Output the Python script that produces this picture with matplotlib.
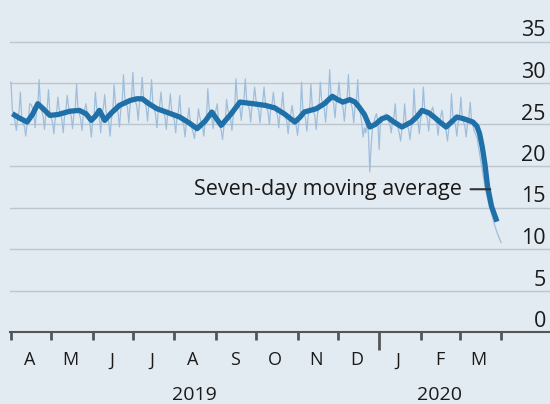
import numpy as np
import matplotlib
matplotlib.use('Agg')
import matplotlib.pyplot as plt
import matplotlib.dates as mdates

plt.rcParams['font.family'] = ['Open Sans', 'DejaVu Sans']

# daily values from 1 April 2019, one row per week (Monday first)
daily_weeks = [
    [30.1, 26.8, 26.0, 25.4, 24.3, 25.9, 26.5],
    [28.9, 25.9, 25.1, 24.8, 23.6, 25.0, 25.6],
    [27.5, 27.4, 27.0, 26.3, 24.6, 26.5, 27.2],
    [30.4, 27.2, 26.6, 26.0, 24.4, 26.3, 26.9],
    [29.2, 26.5, 25.8, 25.3, 23.9, 25.7, 26.3],
    [28.3, 26.9, 26.2, 25.6, 24.0, 26.0, 26.7],
    [28.5, 27.1, 26.5, 26.0, 24.5, 26.3, 27.0],
    [29.9, 26.9, 26.3, 25.7, 24.3, 26.1, 26.8],
    [27.5, 26.3, 25.6, 25.1, 23.5, 25.5, 26.0],
    [28.9, 27.0, 26.4, 25.9, 24.0, 26.3, 27.0],
    [28.6, 26.5, 25.8, 25.3, 23.6, 25.7, 26.4],
    [29.8, 27.6, 27.0, 26.4, 24.7, 26.8, 27.5],
    [31.0, 28.2, 27.6, 27.0, 25.2, 27.4, 28.1],
    [31.3, 28.4, 27.8, 27.2, 25.5, 27.6, 28.3],
    [30.7, 28.3, 27.6, 27.1, 25.4, 27.5, 28.1],
    [30.4, 27.4, 26.8, 26.2, 24.6, 26.6, 27.2],
    [28.9, 27.1, 26.5, 25.9, 24.4, 26.3, 26.9],
    [28.7, 26.7, 26.0, 25.5, 24.0, 25.9, 26.5],
    [28.5, 26.0, 25.4, 24.9, 23.5, 25.2, 25.8],
    [27.0, 25.2, 24.6, 24.1, 23.3, 24.5, 25.0],
    [26.9, 25.9, 25.3, 24.9, 23.6, 25.2, 25.8],
    [29.3, 26.9, 26.3, 25.8, 24.5, 26.1, 26.7],
    [27.5, 25.4, 24.8, 24.3, 23.2, 24.7, 25.2],
    [28.0, 26.8, 26.2, 25.7, 24.3, 26.0, 26.6],
    [30.5, 28.1, 27.5, 27.0, 25.5, 27.3, 28.0],
    [30.5, 28.0, 27.4, 26.9, 25.3, 27.2, 27.9],
    [29.5, 27.9, 27.2, 26.7, 25.2, 27.1, 27.7],
    [29.5, 27.6, 27.0, 26.5, 25.0, 26.9, 27.5],
    [28.9, 27.3, 26.6, 26.1, 24.6, 26.5, 27.1],
    [28.9, 26.5, 25.9, 25.4, 23.9, 25.7, 26.3],
    [27.3, 26.0, 25.4, 24.9, 23.7, 25.2, 25.8],
    [30.1, 26.9, 26.3, 25.7, 24.2, 26.1, 26.7],
    [29.9, 27.2, 26.6, 26.0, 24.4, 26.4, 27.0],
    [30.1, 28.0, 27.4, 26.9, 25.3, 27.2, 27.9],
    [31.6, 28.7, 28.1, 27.5, 25.8, 27.9, 28.5],
    [30.1, 28.1, 27.5, 27.0, 25.4, 27.3, 28.0],
    [31.0, 28.1, 27.5, 26.9, 25.2, 27.3, 27.9],
    [30.4, 27.0, 26.3, 25.2, 23.5, 24.6, 24.0],
    [25.8, 23.8, 19.3, 22.5, 24.6, 25.2, 25.9],
    [26.3, 25.4, 22.0, 25.6, 25.2, 25.9, 26.1],
    [26.3, 25.9, 25.4, 25.0, 24.0, 25.5, 25.9],
    [27.5, 25.2, 24.6, 24.0, 23.0, 24.4, 25.0],
    [27.5, 25.5, 24.9, 24.4, 23.2, 24.7, 25.3],
    [29.3, 26.5, 25.9, 25.3, 23.9, 25.7, 26.3],
    [29.5, 26.8, 26.2, 25.7, 24.2, 26.0, 26.6],
    [27.1, 26.2, 25.6, 25.1, 23.7, 25.4, 26.0],
    [26.7, 25.3, 24.7, 24.2, 23.0, 24.5, 25.0],
    [28.7, 26.1, 25.4, 24.9, 23.6, 25.3, 25.9],
    [28.3, 26.0, 25.3, 24.8, 23.5, 25.2, 25.8],
    [27.7, 25.5, 24.9, 24.2, 23.8, 23.5, 22.5],
    [21.5, 20.5, 19.5, 18.5, 17.5, 16.8, 16.0],
    [15.3, 14.8, 14.2, 13.6, 13.0, 12.5, 12.0],
    [11.6, 11.2, 10.8],
]
start = np.datetime64('2019-04-01')
daily = np.concatenate([np.array(w) for w in daily_weeks])
daily_dates = start + np.arange(len(daily))

# seven-day moving average
ma_dates = np.array([
    '2019-04-02', '2019-04-07', '2019-04-13', '2019-04-17', '2019-04-21',
    '2019-04-25', '2019-04-30', '2019-05-06', '2019-05-15', '2019-05-22',
    '2019-05-27', '2019-05-31', '2019-06-03', '2019-06-06', '2019-06-10',
    '2019-06-15', '2019-06-21', '2019-06-29', '2019-07-04', '2019-07-08',
    '2019-07-13', '2019-07-19', '2019-07-26', '2019-08-05', '2019-08-12',
    '2019-08-18', '2019-08-24', '2019-08-29', '2019-09-01', '2019-09-05',
    '2019-09-12', '2019-09-19', '2019-09-29', '2019-10-08', '2019-10-15',
    '2019-10-22', '2019-10-26', '2019-10-30', '2019-11-03', '2019-11-06',
    '2019-11-15', '2019-11-21', '2019-11-27', '2019-12-01', '2019-12-05',
    '2019-12-10', '2019-12-14', '2019-12-17', '2019-12-21', '2019-12-25',
    '2019-12-29', '2020-01-03', '2020-01-07', '2020-01-12', '2020-01-18',
    '2020-01-25', '2020-01-29', '2020-02-02', '2020-02-07', '2020-02-11',
    '2020-02-16', '2020-02-20', '2020-02-24', '2020-02-28', '2020-03-04',
    '2020-03-11', '2020-03-14', '2020-03-16', '2020-03-18', '2020-03-20',
    '2020-03-22', '2020-03-25', '2020-03-29',
], dtype='datetime64[D]')
ma_values = [
    26.3, 25.8, 25.3, 26.2, 27.5,
    26.9, 26.1, 26.2, 26.6, 26.7,
    26.3, 25.5, 26.0, 26.7, 25.5,
    26.4, 27.3, 27.9, 28.1, 28.1,
    27.5, 26.9, 26.5, 25.9, 25.2,
    24.5, 25.4, 26.5, 25.8, 24.9,
    26.2, 27.7, 27.5, 27.3, 27.0,
    26.3, 25.8, 25.3, 25.9, 26.5,
    26.9, 27.5, 28.4, 28.0, 27.7,
    28.0, 27.7, 27.1, 26.2, 24.7,
    25.0, 25.7, 25.9, 25.3, 24.7,
    25.3, 25.9, 26.7, 26.4, 25.9,
    25.2, 24.7, 25.3, 25.9, 25.7,
    25.3, 24.8, 23.9, 22.3, 20.2,
    17.5, 15.1, 13.3,
]

month_letters = ['A', 'M', 'J', 'J', 'A', 'S', 'O', 'N', 'D', 'J', 'F', 'M']
month_starts = np.arange('2019-04', '2020-05', dtype='datetime64[M]').astype('datetime64[D]')
years = ['2019', '2020']
year_centres = [np.datetime64('2019-08-16'), np.datetime64('2020-02-15')]
y_ticks = list(range(0, 40, 5))

bg = '#e3ebf2'
fig = plt.figure(figsize=(5.5, 4.04), dpi=100, facecolor=bg)
ax = fig.add_axes([10 / 550, 72 / 404, 540 / 550, 332 / 404], facecolor=bg)

ax.plot(daily_dates, daily, color='#9fbedb', lw=0.9, zorder=2)
ax.plot(ma_dates, ma_values, color='#1f6fa8', lw=3.8, solid_capstyle='butt',
        solid_joinstyle='round', zorder=3)

x0 = mdates.date2num(start) - 0.75
ax.set_xlim(x0, x0 + 540 / 1.3388)
ax.set_ylim(0, 40)

for s in ['top', 'left', 'right']:
    ax.spines[s].set_visible(False)
ax.spines['bottom'].set_color('#555555')
ax.spines['bottom'].set_linewidth(1.5)

# y axis: labels sit above the gridlines on the right
ax.set_yticks(y_ticks)
ax.yaxis.tick_right()
ax.tick_params(axis='y', length=0, pad=-3, labelsize=15.5, labelcolor='#1a1a1a')
for t in ax.yaxis.get_major_ticks():
    t.label2.set_ha('right')
    t.label2.set_va('bottom')
ax.grid(axis='y', color='#bcc6ce', lw=1.0, zorder=1)

# x axis: ticks at month starts, letters in the middle of the months
ax.set_xticks(mdates.date2num(month_starts))
ax.set_xticklabels([])
ax.set_xticks(mdates.date2num(month_starts[:-1] + 14), minor=True)
ax.set_xticklabels(month_letters, minor=True)
ax.tick_params(axis='x', which='major', length=6, width=2, color='#555555')
ax.tick_params(axis='x', which='minor', length=0, pad=14, labelsize=13, labelcolor='#1a1a1a')
ax.xaxis.get_major_ticks()[9].tick1line.set_markersize(13)

for yr, c in zip(years, year_centres):
    ax.annotate(yr, xy=(mdates.date2num(c), 0), xycoords=('data', 'axes fraction'),
                xytext=(0, -45), textcoords='offset points', ha='center', va='center',
                fontsize=14, color='#1a1a1a', annotation_clip=False)

ax.annotate('Seven-day moving average',
            xy=(mdates.date2num(np.datetime64('2020-03-24')), 17.2),
            xytext=(mdates.date2num(np.datetime64('2020-03-03')), 17.2),
            ha='right', va='center', fontsize=15.5, color='#1a1a1a', zorder=4,
            arrowprops=dict(arrowstyle='-', color='#333333', lw=1.5,
                            relpos=(1, 0.5), shrinkA=4, shrinkB=0))

fig.savefig('out.png', dpi=100, facecolor=bg)
